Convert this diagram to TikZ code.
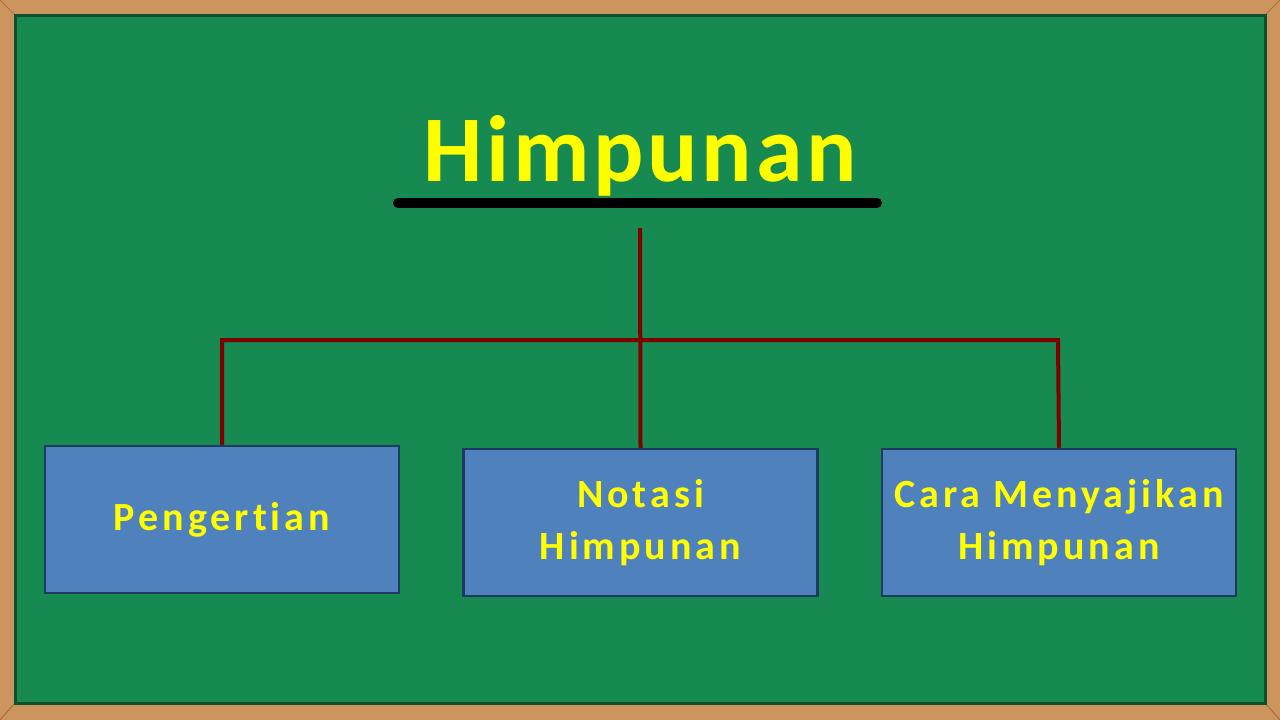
\documentclass[tikz,border=0pt]{standalone}
\usepackage{fontspec}
\setmainfont{Carlito}[Ligatures=NoCommon]
\definecolor{wood}{HTML}{CC955E}
\definecolor{woodedge}{HTML}{A8703C}
\definecolor{board}{HTML}{178A52}
\definecolor{boardedge}{HTML}{0E4F2E}
\definecolor{ylw}{HTML}{FFFF00}
\definecolor{boxblue}{HTML}{4F81BD}
\definecolor{boxline}{HTML}{1F3A60}
\definecolor{treered}{HTML}{800000}
\begin{document}
\begin{tikzpicture}[x=1pt, y=-1pt,
	every node/.style={text=ylw, align=center, font=\fontsize{40}{52}\bfseries\addfontfeature{LetterSpace=10}},
	topic/.style={draw=boxline, line width=2.5pt, fill=boxblue, minimum width=354pt, minimum height=147pt, inner sep=0pt},
	branch/.style={draw=treered, line width=4pt}]
		% chalkboard
		\useasboundingbox (0,0) rectangle (1280,720);
		\fill[wood] (0,0) rectangle (1280,720);
		\draw[woodedge, line width=1pt] (0,0) -- (15,15) (1280,0) -- (1265,15) (0,720) -- (15,703) (1280,720) -- (1265,703);
		\fill[board] (15,15) rectangle (1265,703);
		\draw[boardedge, line width=3pt] (15,15) rectangle (1265,703);
		
		\node[anchor=base, font=\fontsize{94}{100}\bfseries\addfontfeature{LetterSpace=4}] at (640,181) (title) {Himpunan};
		\coordinate (ulL) at (398,203);
		\coordinate (ulR) at (877,203);
		\draw[line width=10pt, line cap=round] (ulL) -- (ulR);
		
		\node[topic] at (222,519.5) (def) {Pengertian};
		\node[topic] at (640.5,522.5) (notasi) {Notasi\\Himpunan};
		\node[topic] at (1059,522.5) (cara) {Cara Menyajikan\\Himpunan};
		
		\coordinate (trunk) at (640,228);
		\coordinate (barR) at (1058,340);
		\draw[branch] (trunk) -- (notasi.north);
		\draw[branch] (def.north) |- (barR) -- (cara.north);
\end{tikzpicture}
\end{document}
